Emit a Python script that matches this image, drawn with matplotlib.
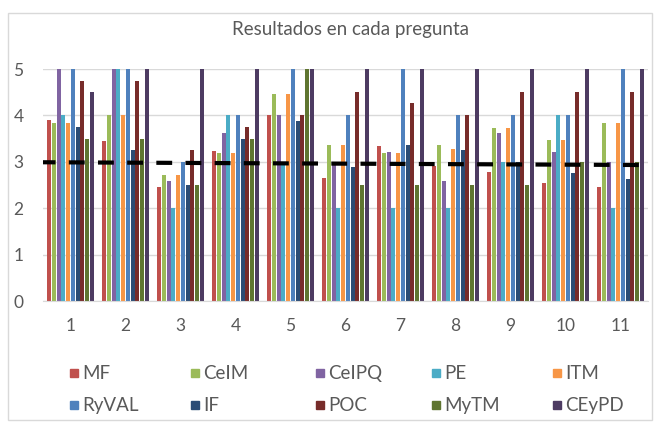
import matplotlib
matplotlib.use('Agg')
import matplotlib.pyplot as plt
import numpy as np
from matplotlib.patches import Rectangle

plt.rcParams['font.family'] = ['Lato', 'DejaVu Sans']

# questions 1..11
preguntas = ['1', '2', '3', '4', '5', '6', '7', '8', '9', '10', '11']

series = ['MF', 'CeIM', 'CeIPQ', 'PE', 'ITM', 'RyVAL', 'IF', 'POC', 'MyTM', 'CEyPD']

MF = [3.90, 3.45, 2.45, 3.23, 4.00, 2.66, 3.33, 2.90, 2.77, 2.55, 2.45]
CeIM = [3.83, 4.00, 2.71, 3.19, 4.46, 3.37, 3.19, 3.37, 3.73, 3.47, 3.83]
CeIPQ = [5.00, 5.00, 2.59, 3.61, 4.00, 3.00, 3.21, 2.59, 3.61, 3.21, 3.00]
PE = [4.00, 5.00, 2.00, 4.00, 2.95, 2.00, 2.00, 2.00, 3.00, 4.00, 2.00]
ITM = [3.83, 4.00, 2.71, 3.19, 4.46, 3.37, 3.19, 3.28, 3.73, 3.47, 3.83]
RyVAL = [5.00, 5.00, 3.00, 4.00, 5.00, 4.00, 5.00, 4.00, 4.00, 4.00, 5.00]
IF = [3.75, 3.25, 2.50, 3.50, 3.88, 2.88, 3.37, 3.25, 3.00, 2.76, 2.63]
POC = [4.75, 4.75, 3.25, 3.75, 4.00, 4.51, 4.26, 4.00, 4.51, 4.51, 4.51]
MyTM = [3.50, 3.50, 2.50, 3.50, 5.00, 2.50, 2.50, 2.50, 2.50, 3.00, 3.00]
CEyPD = [4.51, 5.00, 5.00, 5.00, 5.00, 5.00, 5.00, 5.00, 5.00, 5.00, 5.00]

# dashed reference line, value at left and right edge
media = [2.99, 2.93]

valores = [MF, CeIM, CeIPQ, PE, ITM, RyVAL, IF, POC, MyTM, CEyPD]
colores = ['#C0504D', '#9BBB59', '#8064A2', '#4BACC6', '#F79646',
           '#4F81BD', '#2C4D75', '#772C2A', '#5F7530', '#4D3B62']

fig = plt.figure(figsize=(6.6, 4.23), dpi=100)
ax = fig.add_axes([43/660, 1 - 301/423, (648 - 43)/660, (301 - 69)/423])

x = np.arange(len(preguntas))
paso = 0.087
ancho = 0.072
for i, (vals, col) in enumerate(zip(valores, colores)):
    ax.bar(x + (i - 4.5) * paso, vals, width=ancho, color=col, zorder=2)

ax.plot([-0.5, len(preguntas) - 0.5], media, color='black', lw=3,
        linestyle=(0.8, (3.8, 3.2)), dash_capstyle='butt', zorder=3)

ax.set_xlim(-0.5, len(preguntas) - 0.5)
ax.set_ylim(0, 5)
ax.set_yticks(range(6))
ax.set_xticks(x)
ax.set_xticklabels(preguntas)
ax.grid(axis='y', color='#D9D9D9', lw=1, zorder=0)
for s in ['top', 'right', 'left']:
    ax.spines[s].set_visible(False)
ax.spines['bottom'].set_color('#D9D9D9')
ax.tick_params(length=0, labelsize=12.5, colors='#595959')
ax.tick_params(axis='x', pad=12)
ax.tick_params(axis='y', pad=14)

fig.text(351/660, 1 - 30/423, 'Resultados en cada pregunta', ha='center',
         va='center', fontsize=13.5, color='#595959')

# legend, drawn by hand to keep the Excel column spacing
xs = [74, 195, 320, 436, 557]
ys = [373, 405]
for i, (nombre, col) in enumerate(zip(series, colores)):
    px = xs[i % 5]
    py = ys[i // 5]
    fig.add_artist(Rectangle(((px - 4)/660, 1 - (py + 4)/423), 8/660, 8/423,
                             transform=fig.transFigure, color=col))
    fig.text((px + 8)/660, 1 - py/423, nombre, ha='left', va='center',
             fontsize=13.5, color='#595959')

fig.add_artist(Rectangle((8/660, 1 - 420/423), 644/660, 407/423,
                         transform=fig.transFigure, fill=False,
                         edgecolor='#D9D9D9', lw=1))

fig.savefig('out.png', dpi=100)
